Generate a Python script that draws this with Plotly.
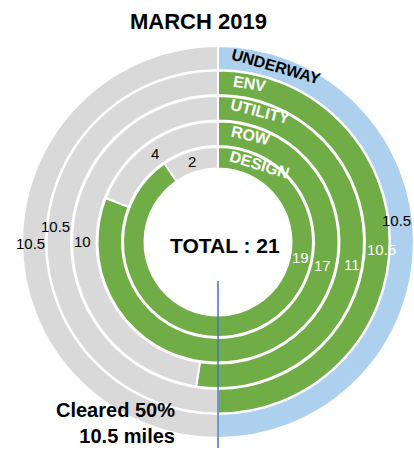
import plotly.graph_objects as go

# ---- data ----
categories = ["UNDERWAY", "ENV", "UTILITY", "ROW", "DESIGN"]
done = [10.5, 10.5, 11, 17, 19]
remaining = [10.5, 10.5, 10, 4, 2]
total = 21
title_text = "MARCH 2019"
cleared_pct = 50
cleared_miles = 10.5

# ---- layout / style ----
W, H = 414, 450
CX, CY = 218, 242
ring_radii = [(196, 172), (171.5, 147), (146, 121.5), (120.5, 96), (95, 73.5)]
done_colors = ["#ADD0EE", "#70AD47", "#70AD47", "#70AD47", "#70AD47"]
gray = "#D9D9D9"

def px(x):
    return x / W

def py(y):
    return 1 - y / H

fig = go.Figure()
for i, cat in enumerate(categories):
    R, r_in = ring_radii[i]
    x0 = max(0.0, (CX - R) / W)
    x1 = min(1.0, (CX + R) / W)
    y0 = max(0.0, 1 - (CY + R) / H)
    y1 = min(1.0, 1 - (CY - R) / H)
    fig.add_trace(go.Pie(
        labels=[cat + " done", cat + " remaining"],
        values=[done[i], remaining[i]],
        hole=r_in / R,
        sort=False,
        direction="clockwise",
        rotation=0,
        textinfo="none",
        showlegend=False,
        marker=dict(colors=[done_colors[i], gray], line=dict(color="white", width=2)),
        domain=dict(x=[x0, x1], y=[y0, y1]),
        name=cat,
    ))

font = "Liberation Sans, Arial, sans-serif"

def label(x, y, text, size, color="black", angle=0, **kw):
    d = dict(x=px(x), y=py(y), xref="paper", yref="paper", text=text,
             showarrow=False, textangle=angle, xanchor="center", yanchor="middle",
             font=dict(family=font, size=size, color=color))
    d.update(kw)
    return d

ann = []
# ring name labels (rotated, along the arc)
name_pos = [(276, 67, 16, "black"), (249, 84, 9, "white"), (260, 111, 14, "white"),
            (251, 135, 13, "white"), (259, 164, 17, "white")]
for cat, (x, y, ang, col) in zip(categories, name_pos):
    ann.append(label(x, y, "<b>%s</b>" % cat, 16, col, ang))

def fmt(v):
    return "%g" % v

# done labels (right side)
done_pos = [(381, 249, "white"), (352, 264, "white"),
            (322, 265, "white"), (300, 257, "white")]
ann.append(label(413, 220, fmt(done[0]), 15, "black", xanchor="right"))
for v, (x, y, col) in zip(done[1:], done_pos):
    ann.append(label(x, y, fmt(v), 15, col))

# remaining labels (left side)
rem_pos = [(30, 243), (56, 226), (82, 241), (155, 153), (192, 161)]
for v, (x, y) in zip(remaining, rem_pos):
    ann.append(label(x, y, fmt(v), 15))

ann.append(label(225, 246, "<b>TOTAL : %d</b>" % total, 21))
ann.append(label(198, 22, "<b>%s</b>" % title_text, 22))
ann.append(label(177, 423, "<b>Cleared %d%%</b><br><b>%g miles</b>" % (cleared_pct, cleared_miles),
                 20, xanchor="right", align="right"))

fig.update_layout(
    width=W, height=H,
    margin=dict(l=0, r=0, t=0, b=0),
    paper_bgcolor="white", plot_bgcolor="white",
    annotations=ann,
    shapes=[dict(type="line", xref="paper", yref="paper",
                 x0=px(218), x1=px(218), y0=py(281), y1=py(448),
                 line=dict(color="#4472C4", width=1.5))],
)

fig.write_html("out.html", config={"displayModeBar": False},
               post_script="document.body.style.margin='0';document.body.style.overflow='hidden';")
